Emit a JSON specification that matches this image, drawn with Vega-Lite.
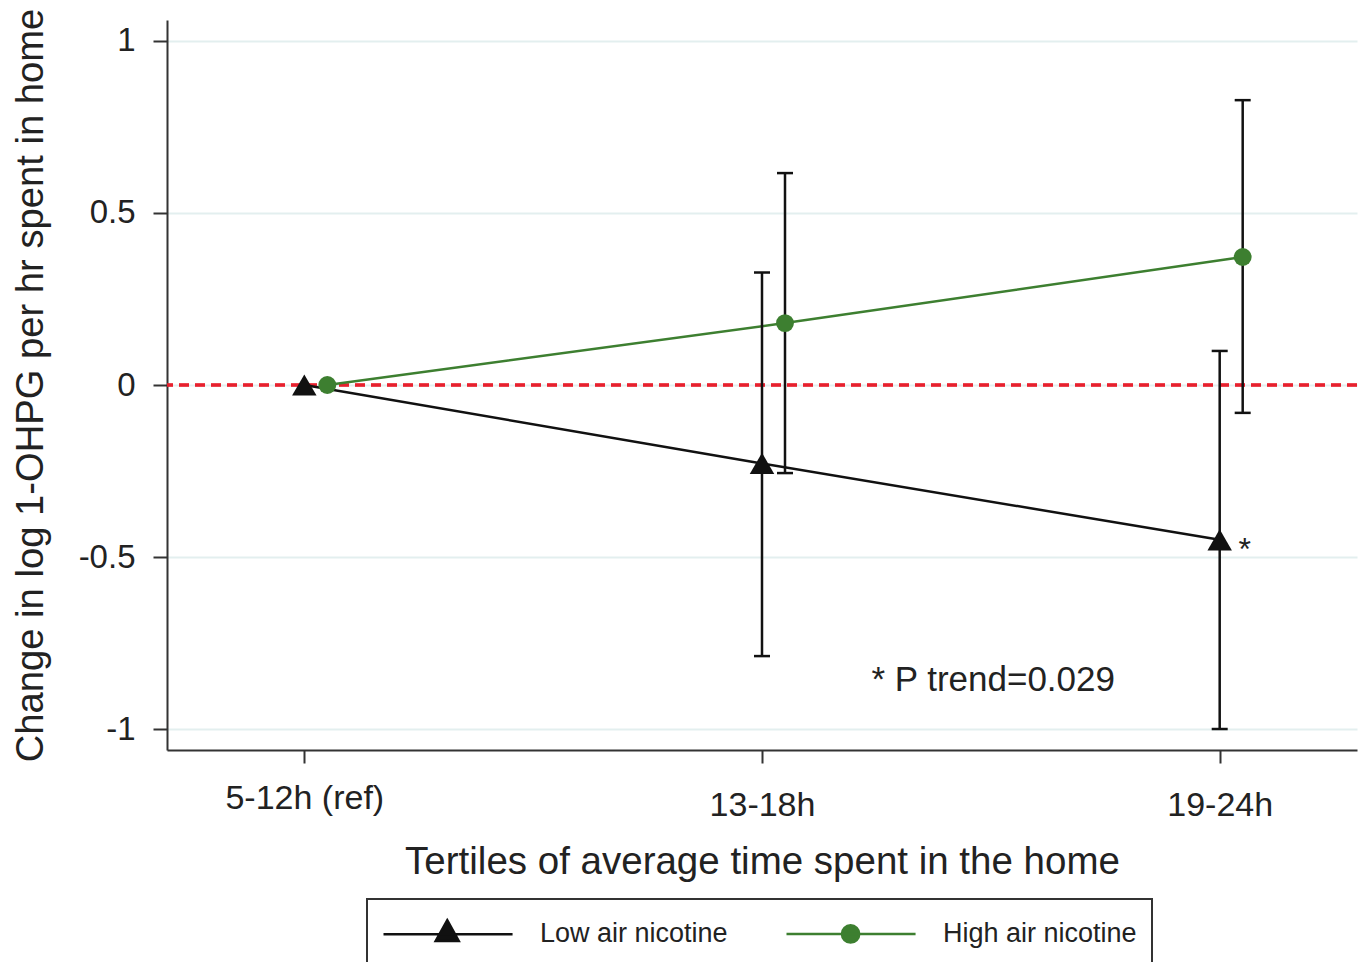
{
  "$schema": "https://vega.github.io/schema/vega-lite/v6.json",
  "width": 1190,
  "height": 730,
  "autosize": {"type": "none"},
  "padding": {"left": 167, "top": 20, "right": 11, "bottom": 212},
  "background": "white",
  "config": {"view": {"stroke": null}, "font": "Liberation Sans"},
  "data": {
    "values": [
      {"t": 0, "series": "Low air nicotine", "est": 0, "lo": null, "hi": null, "sig": ""},
      {"t": 1, "series": "Low air nicotine", "est": -0.228, "lo": -0.788, "hi": 0.327, "sig": ""},
      {"t": 2, "series": "Low air nicotine", "est": -0.45, "lo": -1.0, "hi": 0.099, "sig": "*"},
      {"t": 0, "series": "High air nicotine", "est": 0, "lo": null, "hi": null, "sig": ""},
      {"t": 1, "series": "High air nicotine", "est": 0.18, "lo": -0.256, "hi": 0.616, "sig": ""},
      {"t": 2, "series": "High air nicotine", "est": 0.372, "lo": -0.081, "hi": 0.828, "sig": ""}
    ]
  },
  "layer": [
    {
      "mark": {"type": "rule", "color": "#e8202e", "strokeWidth": 2.5, "strokeDash": [10, 6]},
      "encoding": {
        "y": {
          "datum": 0, "type": "quantitative",
          "scale": {"domain": [-1.061, 1.061], "nice": false, "zero": false},
          "axis": {
            "values": [-1, -0.5, 0, 0.5, 1],
            "labelExpr": "'' + datum.value",
            "title": "Change in log 1-OHPG per hr spent in home",
            "grid": true, "gridColor": "#e3efef", "gridWidth": 2,
            "domainColor": "#333333", "domainWidth": 2,
            "tickColor": "#333333", "tickWidth": 2, "tickSize": 14,
            "labelFontSize": 33, "labelColor": "#222222", "labelPadding": 18,
            "labelFlush": false, "labelOverlap": false,
            "titleFontSize": 38.2, "titleFontWeight": "normal", "titleColor": "#222222",
            "titleBaseline": "alphabetic", "titleX": -125, "titleY": 365, "titleAngle": 270
          }
        }
      }
    },
    {
      "transform": [{"filter": "datum.series == 'Low air nicotine'"}],
      "mark": {"type": "line", "strokeWidth": 2.5},
      "encoding": {
        "x": {
          "field": "t", "type": "quantitative",
          "scale": {"domain": [-0.3, 2.3], "nice": false, "zero": false},
          "axis": {
            "values": [0, 1, 2],
            "labelExpr": "datum.value == 0 ? '5-12h (ref)' : datum.value == 1 ? '13-18h' : '19-24h'",
            "title": "Tertiles of average time spent in the home",
            "grid": false,
            "domainColor": "#333333", "domainWidth": 2,
            "tickColor": "#333333", "tickWidth": 2, "tickSize": 13,
            "labelFontSize": 34, "labelColor": "#222222", "labelBaseline": "alphabetic",
            "labelPadding": {"condition": {"test": "datum.value == 0", "value": 45}, "value": 52},
            "labelFlush": false, "labelOverlap": false,
            "titleFontSize": 38.5, "titleFontWeight": "normal", "titleColor": "#222222",
            "titleBaseline": "alphabetic", "titleY": 123
          }
        },
        "y": {"field": "est", "type": "quantitative", "scale": {"domain": [-1.061, 1.061], "nice": false, "zero": false}},
        "color": {
          "field": "series", "type": "nominal",
          "scale": {"domain": ["Low air nicotine", "High air nicotine"], "range": ["#111111", "#3d7f30"]},
          "legend": {
            "title": null, "orient": "none", "legendX": 200, "legendY": 879,
            "direction": "horizontal", "padding": 15,
            "strokeColor": "#333333", "fillColor": "white",
            "labelFontSize": 27, "labelColor": "#222222", "labelLimit": 400,
            "labelOffset": 119, "columnPadding": 53, "symbolSize": 1296,
            "symbolStrokeWidth": 2.5, "symbolOpacity": 1,
            "encode": {
              "legend": {"update": {"strokeWidth": {"value": 2}}},
              "symbols": {
                "update": {
                  "shape": {"signal": "datum.value == 'Low air nicotine' ? 'M-1,0H6.17M2.54,-0.78L3.18,0.37L1.9,0.37Z' : 'M-1,0H6.17M2.08,0C2.08,-0.265 2.295,-0.48 2.56,-0.48C2.825,-0.48 3.04,-0.265 3.04,0C3.04,0.265 2.825,0.48 2.56,0.48C2.295,0.48 2.08,0.265 2.08,0Z'"},
                  "fill": {"signal": "datum.value == 'Low air nicotine' ? '#111111' : '#3d7f30'"},
                  "stroke": {"signal": "datum.value == 'Low air nicotine' ? '#111111' : '#3d7f30'"},
                  "strokeWidth": {"value": 2.5},
                  "opacity": {"value": 1}
                }
              }
            }
          }
        }
      }
    },
    {
      "transform": [{"filter": "datum.series == 'High air nicotine'"}],
      "mark": {"type": "line", "strokeWidth": 2.5, "xOffset": 23},
      "encoding": {
        "x": {"field": "t", "type": "quantitative", "scale": {"domain": [-0.3, 2.3], "nice": false, "zero": false}},
        "y": {"field": "est", "type": "quantitative", "scale": {"domain": [-1.061, 1.061], "nice": false, "zero": false}},
        "color": {"field": "series", "type": "nominal", "scale": {"domain": ["Low air nicotine", "High air nicotine"], "range": ["#111111", "#3d7f30"]}, "legend": null}
      }
    },
    {
      "transform": [{"filter": "datum.series == 'Low air nicotine' && datum.lo != null"}],
      "mark": {"type": "rule", "color": "#111111", "strokeWidth": 2.5},
      "encoding": {
        "x": {"field": "t", "type": "quantitative", "scale": {"domain": [-0.3, 2.3], "nice": false, "zero": false}},
        "y": {"field": "lo", "type": "quantitative", "scale": {"domain": [-1.061, 1.061], "nice": false, "zero": false}},
        "y2": {"field": "hi"}
      }
    },
    {
      "transform": [{"filter": "datum.series == 'High air nicotine' && datum.lo != null"}],
      "mark": {"type": "rule", "color": "#111111", "strokeWidth": 2.5, "xOffset": 23},
      "encoding": {
        "x": {"field": "t", "type": "quantitative", "scale": {"domain": [-0.3, 2.3], "nice": false, "zero": false}},
        "y": {"field": "lo", "type": "quantitative", "scale": {"domain": [-1.061, 1.061], "nice": false, "zero": false}},
        "y2": {"field": "hi"}
      }
    },
    {
      "transform": [{"filter": "datum.series == 'Low air nicotine' && datum.lo != null"}, {"fold": ["lo", "hi"], "as": ["bound", "val"]}],
      "mark": {"type": "tick", "orient": "horizontal", "size": 16, "thickness": 2.5, "color": "#111111", "opacity": 1},
      "encoding": {
        "x": {"field": "t", "type": "quantitative", "scale": {"domain": [-0.3, 2.3], "nice": false, "zero": false}},
        "y": {"field": "val", "type": "quantitative", "scale": {"domain": [-1.061, 1.061], "nice": false, "zero": false}}
      }
    },
    {
      "transform": [{"filter": "datum.series == 'High air nicotine' && datum.lo != null"}, {"fold": ["lo", "hi"], "as": ["bound", "val"]}],
      "mark": {"type": "tick", "orient": "horizontal", "size": 16, "thickness": 2.5, "color": "#111111", "opacity": 1, "xOffset": 23},
      "encoding": {
        "x": {"field": "t", "type": "quantitative", "scale": {"domain": [-0.3, 2.3], "nice": false, "zero": false}},
        "y": {"field": "val", "type": "quantitative", "scale": {"domain": [-1.061, 1.061], "nice": false, "zero": false}}
      }
    },
    {
      "transform": [{"filter": "datum.series == 'Low air nicotine'"}],
      "mark": {"type": "point", "shape": "triangle-up", "size": 600, "filled": true, "color": "#111111", "opacity": 1},
      "encoding": {
        "x": {"field": "t", "type": "quantitative", "scale": {"domain": [-0.3, 2.3], "nice": false, "zero": false}},
        "y": {"field": "est", "type": "quantitative", "scale": {"domain": [-1.061, 1.061], "nice": false, "zero": false}}
      }
    },
    {
      "transform": [{"filter": "datum.series == 'High air nicotine'"}],
      "mark": {"type": "point", "shape": "circle", "size": 320, "filled": true, "color": "#3d7f30", "opacity": 1, "xOffset": 23},
      "encoding": {
        "x": {"field": "t", "type": "quantitative", "scale": {"domain": [-0.3, 2.3], "nice": false, "zero": false}},
        "y": {"field": "est", "type": "quantitative", "scale": {"domain": [-1.061, 1.061], "nice": false, "zero": false}}
      }
    },
    {
      "transform": [{"filter": "datum.sig != ''"}],
      "mark": {"type": "text", "fontSize": 32, "color": "#222222", "align": "center", "baseline": "alphabetic", "dx": 25, "dy": 20},
      "encoding": {
        "x": {"field": "t", "type": "quantitative", "scale": {"domain": [-0.3, 2.3], "nice": false, "zero": false}},
        "y": {"field": "est", "type": "quantitative", "scale": {"domain": [-1.061, 1.061], "nice": false, "zero": false}},
        "text": {"field": "sig"}
      }
    },
    {
      "data": {"values": [{"t": 1.239, "v": -0.889, "label": "* P trend=0.029"}]},
      "mark": {"type": "text", "fontSize": 35, "color": "#222222", "align": "left", "baseline": "alphabetic"},
      "encoding": {
        "x": {"field": "t", "type": "quantitative", "scale": {"domain": [-0.3, 2.3], "nice": false, "zero": false}},
        "y": {"field": "v", "type": "quantitative", "scale": {"domain": [-1.061, 1.061], "nice": false, "zero": false}},
        "text": {"field": "label"}
      }
    }
  ]
}
